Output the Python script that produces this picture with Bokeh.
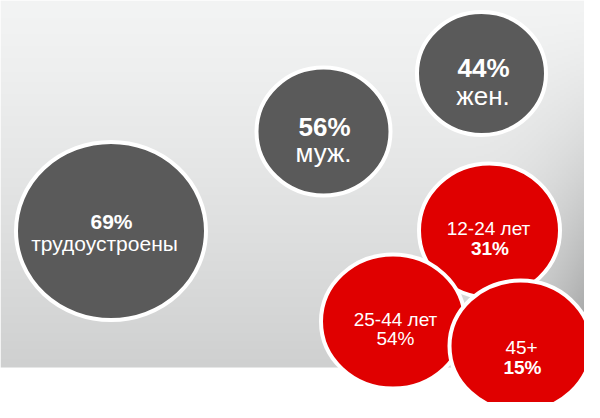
import numpy as np
from bokeh.plotting import figure
from bokeh.models import Range1d, ColumnDataSource
from bokeh.core.properties import value
from bokeh.embed import file_html
from bokeh.resources import INLINE

# ---- data ----
labels = ["трудоустроены", "муж.", "жен.", "12-24 лет", "25-44 лет", "45+"]
values = [69, 56, 44, 31, 54, 15]
groups = ["employment", "gender", "gender", "age", "age", "age"]

# ---- layout (pixel coordinates, origin top-left of 600x418 picture) ----
cx = [110.5, 323, 481, 489, 392.5, 520]
cy = [230.5, 131, 73, 230, 321, 345.5]
rx = [97, 69, 66.5, 72.5, 74, 73]
ry = [91, 66, 63.5, 69, 69, 67.5]

pct_first = [True, True, True, False, False, False]
pct_bold = [True, True, True, True, False, True]
top_x = [111, 324, 483, 488, 395, 521]
top_base = [221, 126, 67, 228, 319, 347]
bot_x = [104, 323, 482.5, 489.5, 395, 522]
bot_base = [243, 152, 95, 248, 338, 367]
fsize = [21, 26, 26, 19, 19, 19]

colors = {"employment": "#5a5a5a", "gender": "#5a5a5a", "age": "#e00000"}
H_PIC = 418

def Y(py):
    return H_PIC - py

p = figure(width=584, height=402, x_range=Range1d(0, 584), y_range=Range1d(16, 418),
           output_backend="svg", toolbar_location=None, min_border=0)
p.axis.visible = False
p.grid.visible = False
p.outline_line_color = None
p.background_fill_color = "white"
p.border_fill_color = "white"

# ---- background gradient ----
BG_H = 367
W, H = 300, 184
img = np.empty((H, W), dtype=np.uint32)
view = img.view(dtype=np.uint8).reshape((H, W, 4))
cols = (np.arange(W) + 0.5) * 600 / W
rows = BG_H - (np.arange(H) + 0.5) * BG_H / H
PX, PY = np.meshgrid(cols, rows)
t = PY / BG_H
g = 243 - 36 * t ** 1.2 - 72 * np.clip((PX - 470) / 130, 0, 1) ** 2 * t ** 1.5
g = np.clip(g, 0, 255).astype(np.uint8)
view[..., 0] = g
view[..., 1] = np.clip(g.astype(int) + 1, 0, 255).astype(np.uint8)
view[..., 2] = np.clip(g.astype(int) + 1, 0, 255).astype(np.uint8)
view[..., 3] = 255
p.image_rgba(image=[img], x=0, y=Y(BG_H), dw=600, dh=BG_H)

# ---- bubbles ----
bsrc = ColumnDataSource(dict(
    x=cx, y=[Y(v) for v in cy],
    w=[2 * (r - 2) for r in rx], h=[2 * (r - 2) for r in ry],
    c=[colors[g_] for g_ in groups],
))
p.ellipse(x="x", y="y", width="w", height="h", fill_color="c", line_color="white",
          line_width=4, source=bsrc)

# ---- texts ----
tx, ty, tt, ts, tst = [], [], [], [], []
for i in range(len(labels)):
    pct = f"{values[i]}%"
    if pct_first[i]:
        top, top_style = pct, "bold" if pct_bold[i] else "normal"
        bot, bot_style = labels[i], "normal"
    else:
        top, top_style = labels[i], "normal"
        bot, bot_style = pct, "bold" if pct_bold[i] else "normal"
    tx += [top_x[i], bot_x[i]]
    ty += [Y(top_base[i]), Y(bot_base[i])]
    tt += [top, bot]
    ts += [f"{fsize[i]}px", f"{fsize[i]}px"]
    tst += [top_style, bot_style]

tsrc = ColumnDataSource(dict(x=tx, y=ty, text=tt, size=ts, style=tst))
p.text(x="x", y="y", text="text", source=tsrc, text_font=value("Liberation Sans"),
       text_font_size="size", text_font_style="style", text_color="white",
       text_align="center", text_baseline="alphabetic")

open("out.html", "w").write(file_html(p, INLINE))
